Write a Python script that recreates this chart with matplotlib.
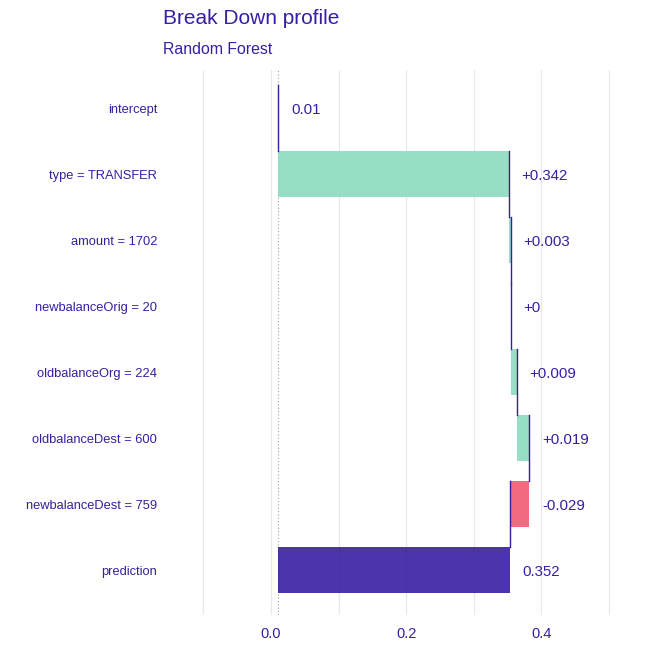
import matplotlib.pyplot as plt
import numpy as np

plt.rcParams['font.family'] = ['Liberation Sans', 'DejaVu Sans']

variables = ["intercept", "type = TRANSFER", "amount = 1702", "newbalanceOrig = 20",
             "oldbalanceOrg = 224", "oldbalanceDest = 600", "newbalanceDest = 759", "prediction"]
intercept = 0.0104
contributions = [0.3416, 0.0030, 0.0000, 0.0090, 0.0186, -0.0290]
labels = ["0.01", "+0.342", "+0.003", "+0", "+0.009", "+0.019", "-0.029", "0.352"]

dark = "#371ea3"
green = "#8bdcbe"
red = "#f05a71"

cum = intercept + np.cumsum(contributions)
starts = [intercept] + list(np.concatenate([[intercept], cum[:-1]])) + [intercept]
ends = [intercept] + list(cum) + [cum[-1]]
colors = [dark] + [green if c >= 0 else red for c in contributions] + [dark]

fig = plt.figure(figsize=(6.64, 6.64), dpi=100)
ax = fig.add_axes([0.2485, 0.0738, 0.6855, 0.8208])

h = 0.7
pos = np.arange(len(variables))
for i in pos:
    left = min(starts[i], ends[i])
    width = abs(ends[i] - starts[i])
    ax.barh(i, width, left=left, height=h, color=colors[i], alpha=0.9, zorder=3)
    # connector line to the next bar
    if i < len(pos) - 1:
        ax.plot([ends[i], ends[i]], [i - h / 2, i + 1 - h / 2], color=dark, lw=1, zorder=4)
    ax.text(max(starts[i], ends[i]) + 0.019, i, labels[i], va="center_baseline", ha="left",
            color=dark, fontsize=10.8)

ax.axvline(intercept, color="#9e9e9e", ls=(0, (1, 2)), lw=0.8, zorder=2)

ax.set_xlim(-0.157, 0.517)
ax.set_ylim(7.68, -0.58)
ax.set_yticks(pos)
ax.set_yticklabels(variables)
ax.set_xticks([0.0, 0.2, 0.4])
ax.set_xticklabels(["0.0", "0.2", "0.4"])
ax.set_xticks([-0.1, 0.1, 0.3, 0.5], minor=True)
ax.tick_params(axis="both", which="both", length=0, colors=dark)
ax.tick_params(axis="x", pad=9, labelsize=10.5)
ax.tick_params(axis="y", pad=5.5, labelsize=9.3)
ax.grid(True, axis="x", which="both", color="#e8e8e8", lw=0.9, zorder=0)
for s in ax.spines.values():
    s.set_visible(False)

fig.text(0.245, 1 - 18 / 664, "Break Down profile", color=dark, fontsize=15, va="center", ha="left")
fig.text(0.245, 1 - 50 / 664, "Random Forest", color=dark, fontsize=11.4, va="center", ha="left")

fig.savefig("out.png", dpi=100, facecolor="white")
